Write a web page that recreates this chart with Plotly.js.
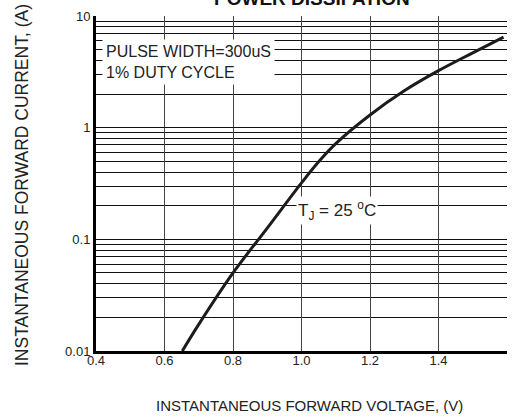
<!DOCTYPE html>
<html>
<head>
<meta charset="utf-8">
<script src="https://cdn.plot.ly/plotly-3.0.1.min.js"></script>
<style>html,body{margin:0;padding:0;background:#fff;}#chart{width:516px;height:418px;}</style>
</head>
<body>
<div id="chart"></div>
<script>
// Forward voltage (V) and forward current (A)
var voltage = [0.652, 0.70, 0.80, 0.90, 1.00, 1.05, 1.10, 1.20, 1.30, 1.40, 1.50, 1.59];
var current = [0.010, 0.0173, 0.050, 0.126, 0.32, 0.495, 0.72, 1.30, 2.14, 3.24, 4.68, 6.46];

var xTickVals = [0.4, 0.6, 0.8, 1.0, 1.2, 1.4, 1.6];
var xTickText = ['0.4', '0.6', '0.8', '1.0', '1.2', '1.4', '1.6'];
var yTickVals = [0.01, 0.1, 1, 10];
var yTickText = ['0.01', '0.1', '1', '10'];
var yMinorVals = [];
[0.01, 0.1, 1].forEach(function (d) { for (var k = 2; k <= 9; k++) yMinorVals.push(+(d * k).toPrecision(3)); });

var titleText = 'POWER DISSIPATION';
var xTitle = 'INSTANTANEOUS FORWARD VOLTAGE, (V)';
var yTitle = 'INSTANTANEOUS FORWARD CURRENT, (A)';
var noteText = 'PULSE WIDTH=300uS<br>1% DUTY CYCLE';
var tjText = 'T<sub>J</sub> = 25 <sup>o</sup>C';

var FONT = '"Liberation Sans", Arial, sans-serif';
var TXT = '#222';

var trace = {
  x: voltage, y: current, type: 'scatter', mode: 'lines',
  line: {color: '#1c1c1c', width: 3, shape: 'spline', smoothing: 1},
  hoverinfo: 'skip'
};

var layout = {
  width: 516, height: 418,
  margin: {l: 96, r: 9, t: 16, b: 67},
  paper_bgcolor: '#fff', plot_bgcolor: '#fff',
  showlegend: false,
  font: {family: FONT, color: TXT, size: 13},
  xaxis: {
    range: [0.4, 1.6], tickmode: 'array', tickvals: xTickVals, ticktext: xTickText,
    showgrid: true, gridcolor: '#444', gridwidth: 1,
    showline: true, linecolor: '#000', linewidth: 3, mirror: false,
    zeroline: false, ticks: '', ticklabelstandoff: -5,
    tickfont: {family: FONT, size: 13, color: TXT},
    fixedrange: true
  },
  yaxis: {
    type: 'log', range: [-2, 1], tickmode: 'array', tickvals: yTickVals, ticktext: yTickText,
    showgrid: true, gridcolor: '#111', gridwidth: 1,
    minor: {tickmode: 'array', tickvals: yMinorVals, showgrid: true, gridcolor: '#111', gridwidth: 1, ticks: ''},
    showline: true, linecolor: '#000', linewidth: 3, mirror: false,
    zeroline: false, ticks: '', tickfont: {family: FONT, size: 13, color: TXT},
    fixedrange: true
  },
  annotations: [
    {text: '<b>' + titleText + '</b>', xref: 'paper', yref: 'paper', x: 0.5248, y: 1.014,
     xanchor: 'center', yanchor: 'bottom', showarrow: false,
     font: {family: FONT, size: 19, color: '#111'}},
    {text: xTitle, xref: 'paper', yref: 'paper', x: 0.5195, y: -0.164,
     xanchor: 'center', yanchor: 'middle', showarrow: false,
     font: {family: FONT, size: 15, color: TXT}},
    {text: yTitle, xref: 'paper', yref: 'paper', x: -0.18, y: 0.4955, textangle: -90,
     xanchor: 'center', yanchor: 'middle', showarrow: false,
     font: {family: FONT, size: 17.5, color: TXT}},
    {text: noteText, xref: 'paper', yref: 'paper', x: 0.0146, y: 0.931,
     xanchor: 'left', yanchor: 'top', align: 'left', showarrow: false,
     bgcolor: '#fff', borderpad: 3,
     font: {family: FONT, size: 16, color: TXT}},
    {text: tjText, xref: 'x', yref: 'y', x: 1.1036, y: -0.746,
     xanchor: 'center', yanchor: 'middle', showarrow: false,
     bgcolor: '#fff', borderpad: 1,
     font: {family: FONT, size: 17, color: TXT}}
  ]
};

Plotly.newPlot('chart', [trace], layout, {displayModeBar: false, staticPlot: true});
</script>
</body>
</html>
